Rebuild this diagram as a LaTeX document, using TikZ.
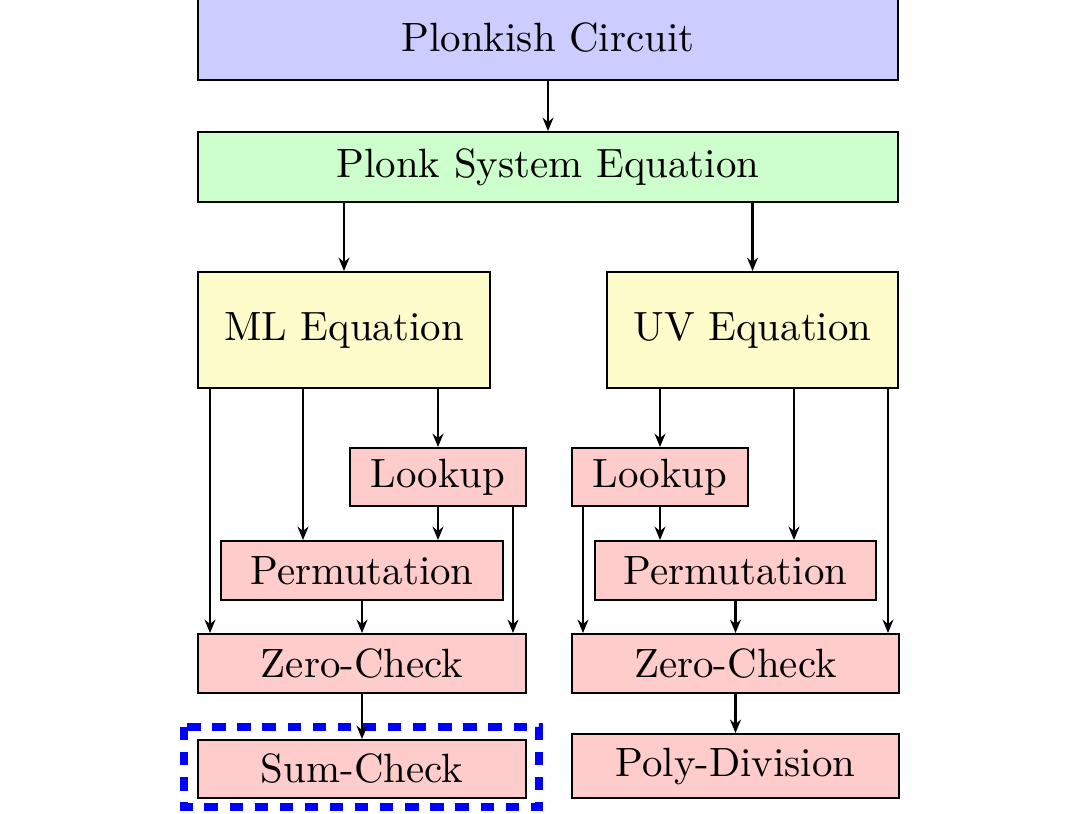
\documentclass[tikz,border=0pt]{standalone}
\usetikzlibrary{arrows.meta}
\def\u{0.247pt}
\tikzset{
  bx/.style={draw, line width=0.5pt, inner sep=0pt, align=center, font=\fontsize{10.1}{12}\selectfont},
  arr/.style={line width=0.5pt, -{Stealth[length=3.3pt,width=2.7pt]}},
  hl/.style={draw=blue, line width=1.9pt, dash pattern=on 3.3pt off 2.9pt},
}
\begin{document}
\begin{tikzpicture}[x=\u, y=-\u]
\useasboundingbox (0,0) rectangle (1082,813);
\node[bx, fill=blue!20, minimum width={700*\u}, minimum height={84*\u}] (pc) at (548,38) {Plonkish Circuit};
\node[bx, fill=green!20, minimum width={700*\u}, minimum height={70*\u}] (pse) at (548,167) {Plonk System Equation};
\node[bx, fill=yellow!20, minimum width={292*\u}, minimum height={116*\u}] (ml) at (344,330) {ML Equation};
\node[bx, fill=yellow!20, minimum width={291*\u}, minimum height={116*\u}] (uv) at (752.5,330) {UV Equation};
\node[bx, fill=red!20, minimum width={176*\u}, minimum height={58*\u}] (lkL) at (438,477) {Lookup};
\node[bx, fill=red!20, minimum width={282*\u}, minimum height={59*\u}] (pmL) at (362,570.5) {Permutation};
\node[bx, fill=red!20, minimum width={328*\u}, minimum height={59*\u}] (zcL) at (362,663.5) {Zero-Check};
\node[bx, fill=red!20, minimum width={328*\u}, minimum height={58*\u}] (scL) at (362,769) {Sum-Check};
\node[bx, fill=red!20, minimum width={176*\u}, minimum height={58*\u}] (lkR) at (660,477) {Lookup};
\node[bx, fill=red!20, minimum width={281*\u}, minimum height={59*\u}] (pmR) at (735.5,570.5) {Permutation};
\node[bx, fill=red!20, minimum width={327*\u}, minimum height={59*\u}] (zcR) at (735.5,663.5) {Zero-Check};
\node[bx, fill=red!20, minimum width={327*\u}, minimum height={64*\u}] (pd) at (735.5,766) {Poly-Division};
\draw[hl] (184,727) rectangle (539,807);
% arrows
\draw[arr] (pc.south) -- (pse.north);
\draw[arr] (pse.south -| ml.north) -- (ml.north);
\draw[arr] (pse.south -| uv.north) -- (uv.north);
% left
\draw[arr] (ml.south -| 210,0) -- (zcL.north -| 210,0);
\draw[arr] (ml.south -| 303,0) -- (pmL.north -| 303,0);
\draw[arr] (ml.south -| lkL.north) -- (lkL.north);
\draw[arr] (lkL.south) -- (pmL.north -| lkL.south);
\draw[arr] (lkL.south -| 513,0) -- (zcL.north -| 513,0);
\draw[arr] (pmL.south) -- (zcL.north);
\draw[arr] (zcL.south) -- (scL.north);
% right
\draw[arr] (uv.south -| lkR.north) -- (lkR.north);
\draw[arr] (uv.south -| 794,0) -- (pmR.north -| 794,0);
\draw[arr] (uv.south -| 888,0) -- (zcR.north -| 888,0);
\draw[arr] (lkR.south -| 583,0) -- (zcR.north -| 583,0);
\draw[arr] (lkR.south) -- (pmR.north -| lkR.south);
\draw[arr] (pmR.south) -- (zcR.north);
\draw[arr] (zcR.south) -- (pd.north);
\end{tikzpicture}
\end{document}
